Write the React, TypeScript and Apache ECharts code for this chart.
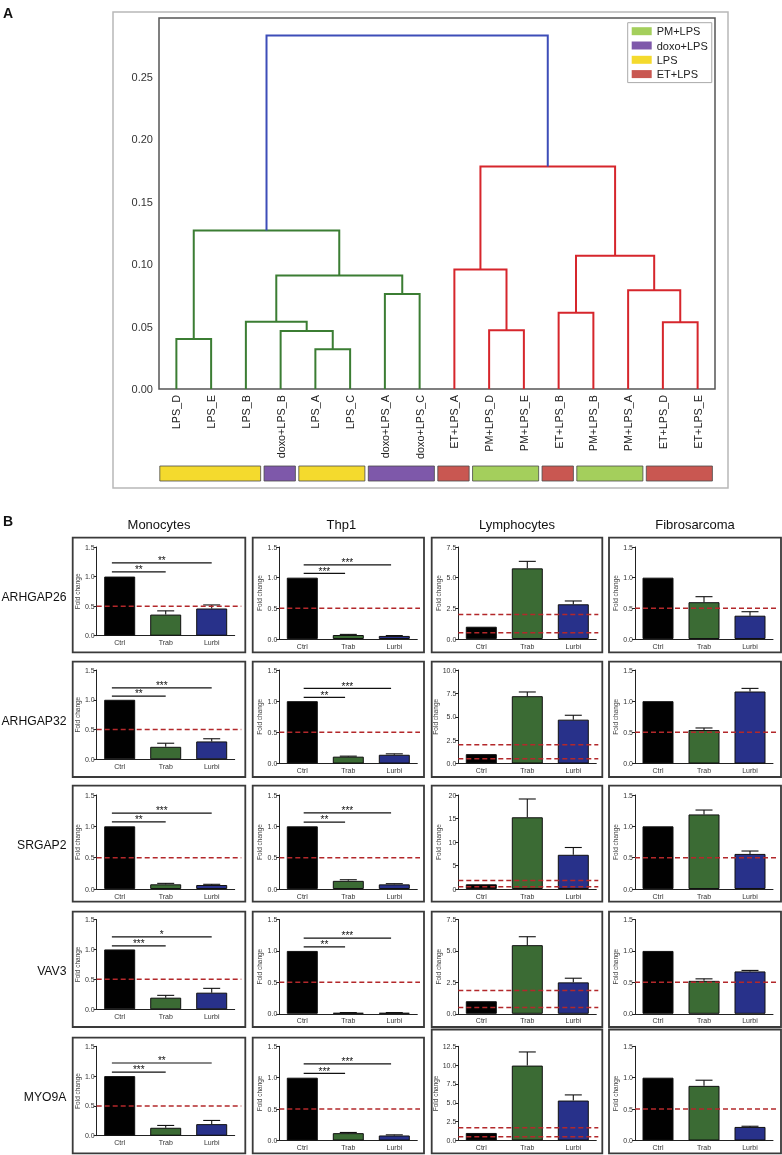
import React, { useEffect, useRef } from 'react';
import * as echarts from 'echarts';

const FONT = '"Liberation Sans", Arial, Helvetica, sans-serif';

// ---------- Panel A: dendrogram data ----------
const LEAVES = ['LPS_D', 'LPS_E', 'LPS_B', 'doxo+LPS_B', 'LPS_A', 'LPS_C', 'doxo+LPS_A', 'doxo+LPS_C',
  'ET+LPS_A', 'PM+LPS_D', 'PM+LPS_E', 'ET+LPS_B', 'PM+LPS_B', 'PM+LPS_A', 'ET+LPS_D', 'ET+LPS_E'];
// merge k creates node 16+k
const MERGE_LEFT = [0, 4, 3, 2, 6, 19, 16, 9, 8, 11, 14, 13, 25, 24, 22];
const MERGE_RIGHT = [1, 5, 17, 18, 7, 20, 21, 10, 23, 12, 15, 26, 27, 28, 29];
const MERGE_HEIGHT = [0.0401, 0.0318, 0.0465, 0.0539, 0.0761, 0.0908, 0.1269, 0.047, 0.0956, 0.0611, 0.0534, 0.0791, 0.1066, 0.1781, 0.2829];
const MERGE_CLUSTER = [0, 0, 0, 0, 0, 0, 0, 1, 1, 1, 1, 1, 1, 1, 2];
const CLUSTER_COLORS = ['#3b7d33', '#d6262c', '#3d4db8'];
const DENDRO_MAX = 0.297;

const GROUP_NAMES = ['PM+LPS', 'doxo+LPS', 'LPS', 'ET+LPS'];
const GROUP_COLORS = ['#a4cf5c', '#7e58aa', '#f4da2d', '#c95751'];
const LEAF_GROUP = [2, 2, 2, 1, 2, 2, 1, 1, 3, 0, 0, 3, 0, 0, 3, 3];

// ---------- Panel B: bar data ----------
const GENES = ['ARHGAP26', 'ARHGAP32', 'SRGAP2', 'VAV3', 'MYO9A'];
const CELLS = ['Monocytes', 'Thp1', 'Lymphocytes', 'Fibrosarcoma'];
const TREATMENTS = ['Ctrl', 'Trab', 'Lurbi'];
const BAR_COLORS = ['#000000', '#3b6b34', '#28318a'];

const MONO_MEAN = [[1, 0.357, 0.46], [1, 0.21, 0.30], [1, 0.075, 0.064], [1, 0.194, 0.278], [1, 0.133, 0.194]];
const MONO_ERR = [[0, 0.063, 0.06], [0, 0.06, 0.045], [0, 0.015, 0.011], [0, 0.039, 0.072], [0, 0.039, 0.062]];
const THP1_MEAN = [[1, 0.065, 0.05], [1, 0.11, 0.14], [1, 0.13, 0.074], [1, 0.016, 0.016], [1, 0.117, 0.08]];
const THP1_ERR = [[0, 0.01, 0.006], [0, 0.008, 0.015], [0, 0.018, 0.011], [0, 0.004, 0.004], [0, 0.011, 0.01]];
const LYMPH_MEAN = [[1, 5.76, 2.83], [1, 7.2, 4.69], [1, 15.26, 7.28], [1, 5.46, 2.5], [1, 9.94, 5.3]];
const LYMPH_ERR = [[0, 0.57, 0.27], [0, 0.45, 0.47], [0, 3.89, 1.55], [0, 0.67, 0.33], [0, 1.81, 0.75]];
const FIBRO_MEAN = [[1, 0.6, 0.38], [1, 0.537, 1.155], [1, 1.19, 0.56], [1, 0.524, 0.674], [1, 0.87, 0.216]];
const FIBRO_ERR = [[0, 0.09, 0.065], [0, 0.033, 0.05], [0, 0.07, 0.046], [0, 0.032, 0.016], [0, 0.09, 0.011]];

const LYMPH_MAX = [7.5, 10, 20, 7.5, 12.5];
const LYMPH_INTERVAL = [2.5, 2.5, 5, 2.5, 2.5];
const LOWER_THRESHOLD = 0.5;
const LYMPH_UPPER_THRESHOLD = [2.0, 2.0, 1.8, 1.85, 1.7];

const MONO_SIG_Y = [[1.08, 1.23], [1.06, 1.2], [1.07, 1.21], [1.06, 1.21], [1.067, 1.22]];
const MONO_SIG = [['**', '**'], ['**', '***'], ['**', '***'], ['***', '*'], ['***', '**']];
const THP1_SIG_Y = [[1.07, 1.21], [1.06, 1.205], [1.067, 1.215], [1.063, 1.205], [1.07, 1.22]];
const THP1_SIG = [['***', '***'], ['**', '***'], ['**', '***'], ['**', '***'], ['***', '***']];

// ---------- layout ----------
const COL_BOX_L = [72.7, 252.7, 431.7, 609];
const COL_BOX_R = [245.3, 424, 602.3, 781];
const COL_AXIS_X = [96.7, 279.3, 458.3, 635];
const ROW_BOX_T = [537.7, 661.7, 785.7, 911.7, 1037.7];
const ROW_BOX_B = [652.3, 777, 901.7, 1027, 1153.3];
const ROW_GRID_T = [547, 670, 795, 919.5, 1046.3];
const ROW_GRID_B = [639, 763.5, 889, 1013.8, 1140.5];
const COL1_ADJ = [-3.3, -4.2, 0, -4.5, -4.8];
const SIG_START = [-0.17, 0.03];
const SIG_END = [0, -0.07];

function txt(text: string, x: number, y: number, size: number, align: string, weight = 'normal', fill = '#111') {
  return {
    type: 'text', x, y, silent: true,
    style: { text, fill, fontSize: size, fontWeight: weight, fontFamily: FONT, align, verticalAlign: 'middle' },
  };
}

function buildOption() {
  const grids: any[] = [];
  const xAxes: any[] = [];
  const yAxes: any[] = [];
  const series: any[] = [];
  const graphics: any[] = [];

  // ----- dendrogram -----
  grids.push({ left: 159, top: 18, width: 556, height: 371, show: true, borderColor: '#555', borderWidth: 1.5, backgroundColor: 'transparent' });
  xAxes.push({ gridIndex: 0, type: 'value', min: 0, max: LEAVES.length, show: false, position: 'top' });
  xAxes.push({
    gridIndex: 0, type: 'category', data: LEAVES, position: 'bottom', boundaryGap: true,
    axisLine: { show: false }, axisTick: { show: false }, splitLine: { show: false },
    axisLabel: { rotate: 90, fontSize: 10.8, color: '#222', margin: 6, interval: 0, fontFamily: FONT },
  });
  yAxes.push({
    gridIndex: 0, type: 'value', min: 0, max: DENDRO_MAX, interval: 0.05,
    axisLine: { show: false }, axisTick: { show: false }, splitLine: { show: false },
    axisLabel: { fontSize: 11, color: '#333', margin: 6, showMaxLabel: false, fontFamily: FONT, formatter: (v: number) => v.toFixed(2) },
  });

  const nodeX: number[] = LEAVES.map((_, i) => i + 0.5);
  const nodeH: number[] = LEAVES.map(() => 0);
  const links = MERGE_LEFT.map((l, k) => {
    const r = MERGE_RIGHT[k];
    const h = MERGE_HEIGHT[k];
    const link = [nodeX[l], nodeH[l], nodeX[r], nodeH[r], h, MERGE_CLUSTER[k]];
    nodeX.push((nodeX[l] + nodeX[r]) / 2);
    nodeH.push(h);
    return link;
  });
  series.push({
    type: 'custom', xAxisIndex: 0, yAxisIndex: 0, silent: true, z: 3,
    data: links,
    renderItem: (_p: any, api: any) => {
      const xl = api.value(0), hl = api.value(1), xr = api.value(2), hr = api.value(3), hp = api.value(4), ci = api.value(5);
      const pts = [api.coord([xl, hl]), api.coord([xl, hp]), api.coord([xr, hp]), api.coord([xr, hr])];
      return { type: 'polyline', shape: { points: pts }, style: { stroke: CLUSTER_COLORS[ci], lineWidth: 2, fill: null } };
    },
  });

  // ----- color bar -----
  grids.push({ left: 159, top: 466, width: 556, height: 15 });
  xAxes.push({ gridIndex: 1, type: 'value', min: 0, max: LEAVES.length, show: false });
  yAxes.push({ gridIndex: 1, type: 'value', min: 0, max: 1, show: false });
  const runs: number[][] = [];
  LEAF_GROUP.forEach((g, i) => {
    const last = runs[runs.length - 1];
    if (last && last[2] === g) last[1] = i + 1;
    else runs.push([i, i + 1, g]);
  });
  GROUP_NAMES.forEach((name, g) => {
    series.push({
      type: 'custom', name, xAxisIndex: 2, yAxisIndex: 1, silent: true,
      itemStyle: { color: GROUP_COLORS[g] },
      data: runs.filter((rr) => rr[2] === g).map((rr) => [rr[0], rr[1]]),
      renderItem: (_p: any, api: any) => {
        const p0 = api.coord([api.value(0), 1]);
        const p1 = api.coord([api.value(1), 0]);
        return {
          type: 'rect',
          shape: { x: p0[0] + 0.8, y: p0[1], width: p1[0] - p0[0] - 3.4, height: p1[1] - p0[1] },
          style: { fill: GROUP_COLORS[g], stroke: '#4a4a4a', lineWidth: 0.8 },
        };
      },
    });
  });

  graphics.push({ type: 'rect', shape: { x: 113, y: 12, width: 615, height: 476 }, style: { fill: 'none', stroke: '#b8b8b8', lineWidth: 1.5 }, silent: true });
  graphics.push(txt('A', 3, 12.5, 14, 'left', 'bold'));
  graphics.push(txt('B', 3, 520.5, 14, 'left', 'bold'));

  // ----- panel B -----
  const MEANS = [MONO_MEAN, THP1_MEAN, LYMPH_MEAN, FIBRO_MEAN];
  const ERRS = [MONO_ERR, THP1_ERR, LYMPH_ERR, FIBRO_ERR];
  const SIGY = [MONO_SIG_Y, THP1_SIG_Y];
  const SIGS = [MONO_SIG, THP1_SIG];

  CELLS.forEach((cell, c) => {
    graphics.push(txt(cell, (COL_BOX_L[c] + COL_BOX_R[c]) / 2 + (c === 1 ? 3 : 0), 524.5, 13, 'center'));
  });
  GENES.forEach((gene, r) => {
    graphics.push(txt(gene, 66.5, (ROW_BOX_T[r] + ROW_BOX_B[r]) / 2 + 1.5, 12.2, 'right'));
  });

  for (let r = 0; r < GENES.length; r++) {
    for (let c = 0; c < CELLS.length; c++) {
      const idx = r * 4 + c;
      const gi = 2 + idx;
      const xi = 3 + idx;
      const yi = 2 + idx;
      const boxT = r === 4 && c >= 2 ? 1029.5 : ROW_BOX_T[r];
      const boxB = ROW_BOX_B[r];
      graphics.push({ type: 'rect', shape: { x: COL_BOX_L[c], y: boxT, width: COL_BOX_R[c] - COL_BOX_L[c], height: boxB - boxT }, style: { fill: 'none', stroke: '#3a3a3a', lineWidth: 1.8 }, silent: true });

      const gTop = ROW_GRID_T[r];
      const gBot = ROW_GRID_B[r] + (c === 0 ? COL1_ADJ[r] : 0);
      grids.push({ left: COL_AXIS_X[c], top: gTop, width: 138, height: gBot - gTop });
      const yMax = c === 2 ? LYMPH_MAX[r] : 1.5;
      const yInt = c === 2 ? LYMPH_INTERVAL[r] : 0.5;
      const decimals = Number.isInteger(yInt) ? 0 : 1;
      xAxes.push({
        gridIndex: gi, type: 'category', data: TREATMENTS,
        axisLine: { lineStyle: { color: '#222', width: 1 } },
        axisTick: { alignWithLabel: true, length: 3, lineStyle: { color: '#222' } },
        axisLabel: { fontSize: 7, color: '#333', margin: 3.5, fontFamily: FONT },
      });
      yAxes.push({
        gridIndex: gi, type: 'value', min: 0, max: yMax, interval: yInt,
        name: 'Fold change', nameLocation: 'middle', nameGap: COL_AXIS_X[c] - COL_BOX_L[c] - 10,
        nameTextStyle: { fontSize: 6.5, color: '#444', fontFamily: FONT },
        axisLine: { show: true, lineStyle: { color: '#222', width: 1 } },
        axisTick: { show: true, length: 3, lineStyle: { color: '#222' } },
        splitLine: { show: false },
        axisLabel: { fontSize: 7, color: '#333', margin: 2, fontFamily: FONT, formatter: (v: number) => v.toFixed(decimals) },
      });

      const means = MEANS[c][r];
      const errs = ERRS[c][r];
      series.push({
        type: 'bar', xAxisIndex: xi, yAxisIndex: yi, barWidth: 31, silent: true, z: 2,
        itemStyle: { borderColor: '#111', borderWidth: 1 },
        data: means.map((v, i) => ({ value: v, itemStyle: { color: BAR_COLORS[i] } })),
      });
      series.push({
        type: 'custom', xAxisIndex: xi, yAxisIndex: yi, silent: true, z: 3,
        data: means.map((m, i) => [i, m, errs[i]]),
        renderItem: (_p: any, api: any) => {
          const i = api.value(0), m = api.value(1), e = api.value(2);
          if (!(e > 0)) return { type: 'group', children: [] };
          const top = api.coord([i, m]);
          const cap = api.coord([i, m + e]);
          return {
            type: 'group',
            children: [
              { type: 'line', shape: { x1: top[0], y1: top[1], x2: cap[0], y2: cap[1] }, style: { stroke: '#111', lineWidth: 1.1 } },
              { type: 'line', shape: { x1: cap[0] - 8.5, y1: cap[1], x2: cap[0] + 8.5, y2: cap[1] }, style: { stroke: '#111', lineWidth: 1.1 } },
            ],
          };
        },
      });
      const thresholds = c === 2 ? [LOWER_THRESHOLD, LYMPH_UPPER_THRESHOLD[r]] : [LOWER_THRESHOLD];
      series.push({
        type: 'custom', xAxisIndex: xi, yAxisIndex: yi, silent: true, z: 5,
        data: thresholds.map((t) => [0, t]),
        renderItem: (p: any, api: any) => {
          const y = api.coord([0, api.value(1)])[1];
          const cs = p.coordSys;
          return { type: 'line', shape: { x1: cs.x, y1: y, x2: COL_BOX_R[c] - 4, y2: y }, style: { stroke: '#b3282b', lineWidth: 1.5, lineDash: [5, 3] } };
        },
      });
      if (c < 2) {
        const sy = SIGY[c][r];
        const st = SIGS[c][r];
        series.push({
          type: 'custom', xAxisIndex: xi, yAxisIndex: yi, silent: true, z: 4,
          data: [[1, sy[0]], [2, sy[1]]],
          renderItem: (p: any, api: any) => {
            const to = api.value(0), yv = api.value(1);
            const band = p.coordSys.width / 3;
            const a = api.coord([0, yv]);
            const b = api.coord([to, yv]);
            const x1 = a[0] + SIG_START[c] * band;
            const x2 = b[0] + SIG_END[c] * band;
            return {
              type: 'group',
              children: [
                { type: 'line', shape: { x1, y1: a[1], x2, y2: a[1] }, style: { stroke: '#111', lineWidth: 1.2 } },
                { type: 'text', x: (x1 + x2) / 2, y: a[1] - 2.2, style: { text: st[p.dataIndex], fill: '#111', fontSize: 10, fontFamily: FONT, align: 'center', verticalAlign: 'middle' } },
              ],
            };
          },
        });
      }
    }
  }

  return {
    animation: false,
    backgroundColor: '#ffffff',
    textStyle: { fontFamily: FONT },
    legend: {
      data: GROUP_NAMES.map((n, g) => ({ name: n, itemStyle: { color: GROUP_COLORS[g] } })),
      orient: 'vertical', left: 627.7, top: 22.7, icon: 'rect', itemWidth: 20, itemHeight: 8, itemGap: 1.3,
      padding: [2, 4, 2, 4], borderColor: '#aaa', borderWidth: 1, selectedMode: false,
      textStyle: { fontSize: 11, color: '#222', lineHeight: 13, fontFamily: FONT },
    },
    grid: grids,
    xAxis: xAxes,
    yAxis: yAxes,
    series,
    graphic: graphics,
  };
}

export default function App() {
  const ref = useRef<HTMLDivElement>(null);
  useEffect(() => {
    if (!ref.current) return;
    const chart = echarts.init(ref.current, null, { renderer: 'svg' });
    chart.setOption(buildOption() as any);
    return () => chart.dispose();
  }, []);
  return (
    <div
      ref={ref}
      style={{ position: 'absolute', left: 0, top: 0, width: 782, height: 1155, background: '#fff', opacity: 0.999, willChange: 'transform' }}
    />
  );
}
